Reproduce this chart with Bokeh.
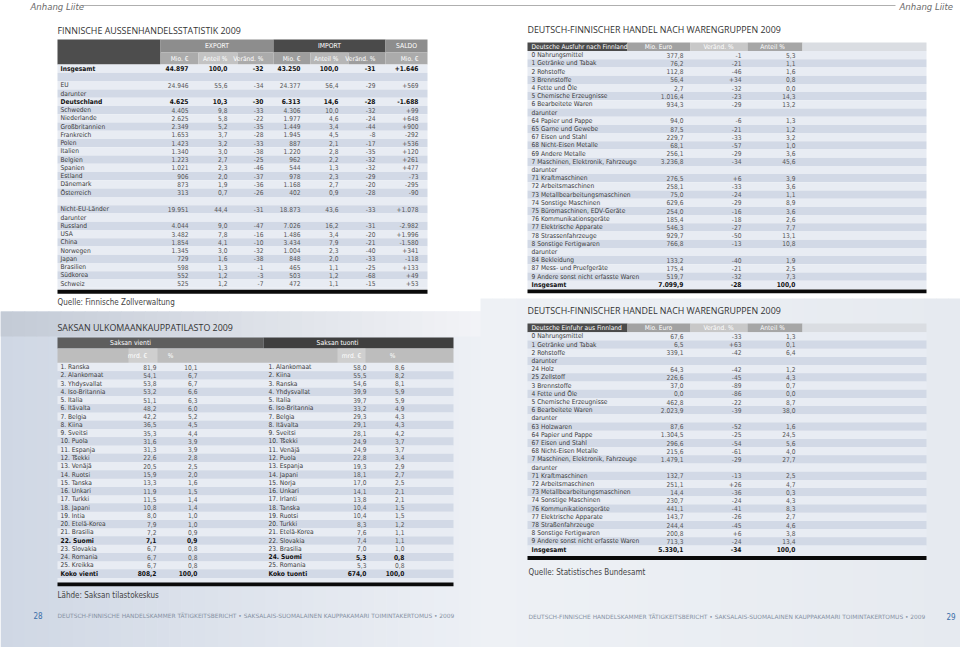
from bokeh.plotting import figure
from bokeh.models import ColumnDataSource, Range1d
from bokeh.core.properties import value
from bokeh.embed import file_html
from bokeh.resources import INLINE

# ------------------------------------------------------------------ DATA
fin_labels = ["Insgesamt", "", "EU", "darunter", "Deutschland", "Schweden", "Niederlande",
              "Großbritannien", "Frankreich", "Polen", "Italien", "Belgien", "Spanien", "Estland",
              "Dänemark", "Österreich", "", "Nicht-EU-Länder", "darunter", "Russland", "USA",
              "China", "Norwegen", "Japan", "Brasilien", "Südkorea", "Schweiz"]
fin_exp_mio = ["44.897", "", "24.946", "", "4.625", "4.405", "2.625", "2.349", "1.653", "1.423",
               "1.340", "1.223", "1.021", "906", "873", "313", "", "19.951", "", "4.044", "3.482",
               "1.854", "1.345", "729", "598", "552", "525"]
fin_exp_share = ["100,0", "", "55,6", "", "10,3", "9,8", "5,8", "5,2", "3,7", "3,2", "3,0", "2,7",
                 "2,3", "2,0", "1,9", "0,7", "", "44,4", "", "9,0", "7,8", "4,1", "3,0", "1,6",
                 "1,3", "1,2", "1,2"]
fin_exp_chg = ["-32", "", "-34", "", "-30", "-33", "-22", "-35", "-28", "-33", "-38", "-25", "-46",
               "-37", "-36", "-26", "", "-31", "", "-47", "-16", "-10", "-32", "-38", "-1", "-3", "-7"]
fin_imp_mio = ["43.250", "", "24.377", "", "6.313", "4.306", "1.977", "1.449", "1.945", "887",
               "1.220", "962", "544", "978", "1.168", "402", "", "18.873", "", "7.026", "1.486",
               "3.434", "1.004", "848", "465", "503", "472"]
fin_imp_share = ["100,0", "", "56,4", "", "14,6", "10,0", "4,6", "3,4", "4,5", "2,1", "2,8", "2,2",
                 "1,3", "2,3", "2,7", "0,9", "", "43,6", "", "16,2", "3,4", "7,9", "2,3", "2,0",
                 "1,1", "1,2", "1,1"]
fin_imp_chg = ["-31", "", "-29", "", "-28", "-32", "-24", "-44", "-8", "-17", "-35", "-32", "-32",
               "-29", "-20", "-28", "", "-33", "", "-31", "-20", "-21", "-40", "-33", "-25", "-68", "-15"]
fin_saldo = ["+1.646", "", "+569", "", "-1.688", "+99", "+648", "+900", "-292", "+536", "+120",
             "+261", "+477", "-73", "-295", "-90", "", "+1.078", "", "-2.982", "+1.996", "-1.580",
             "+341", "-118", "+133", "+49", "+53"]
fin_bold = ["Insgesamt", "Deutschland"]
fin_groups = ["EXPORT", "IMPORT", "SALDO"]
fin_sub = ["Mio. €", "Anteil %", "Veränd. %", "Mio. €", "Anteil %", "Veränd. %", "Mio. €"]

vienti_labels = ["1. Ranska", "2. Alankomaat", "3. Yhdysvallat", "4. Iso-Britannia", "5. Italia",
                 "6. Itävalta", "7. Belgia", "8. Kiina", "9. Sveitsi", "10. Puola", "11. Espanja",
                 "12. Tšekki", "13. Venäjä", "14. Ruotsi", "15. Tanska", "16. Unkari", "17. Turkki",
                 "18. Japani", "19. Intia", "20. Etelä-Korea", "21. Brasilia", "22. Suomi",
                 "23. Slovakia", "24. Romania", "25. Kreikka", "Koko vienti"]
vienti_mrd = ["81,9", "54,1", "53,8", "53,2", "51,1", "48,2", "42,2", "36,5", "35,3", "31,6", "31,3",
              "22,6", "20,5", "15,9", "13,3", "11,9", "11,5", "10,8", "8,0", "7,9", "7,2", "7,1",
              "6,7", "6,7", "6,7", "808,2"]
vienti_pct = ["10,1", "6,7", "6,7", "6,6", "6,3", "6,0", "5,2", "4,5", "4,4", "3,9", "3,9", "2,8",
              "2,5", "2,0", "1,6", "1,5", "1,4", "1,4", "1,0", "1,0", "0,9", "0,9", "0,8", "0,8",
              "0,8", "100,0"]
tuonti_labels = ["1. Alankomaat", "2. Kiina", "3. Ranska", "4. Yhdysvallat", "5. Italia",
                 "6. Iso-Britannia", "7. Belgia", "8. Itävalta", "9. Sveitsi", "10. Tšekki",
                 "11. Venäjä", "12. Puola", "13. Espanja", "14. Japani", "15. Norja", "16. Unkari",
                 "17. Irlanti", "18. Tanska", "19. Ruotsi", "20. Turkki", "21. Etelä-Korea",
                 "22. Slovakia", "23. Brasilia", "24. Suomi", "25. Romania", "Koko tuonti"]
tuonti_mrd = ["58,0", "55,5", "54,6", "39,9", "39,7", "33,2", "29,3", "29,1", "28,1", "24,9", "24,9",
              "22,8", "19,3", "18,1", "17,0", "14,1", "13,8", "10,4", "10,4", "8,3", "7,6", "7,4",
              "7,0", "5,3", "5,3", "674,0"]
tuonti_pct = ["8,6", "8,2", "8,1", "5,9", "5,9", "4,9", "4,3", "4,3", "4,2", "3,7", "3,7", "3,4",
              "2,9", "2,7", "2,5", "2,1", "2,1", "1,5", "1,5", "1,2", "1,1", "1,1", "1,0", "0,8",
              "0,8", "100,0"]
saksan_bold = ["22. Suomi", "24. Suomi", "Koko vienti", "Koko tuonti"]

aus_labels = ["0 Nahrungsmittel", "1 Getränke und Tabak", "2 Rohstoffe", "3 Brennstoffe",
              "4 Fette und Öle", "5 Chemische Erzeugnisse", "6 Bearbeitete Waren", "darunter",
              "64 Papier und Pappe", "65 Garne und Gewebe", "67 Eisen und Stahl",
              "68 Nicht-Eisen Metalle", "69 Andere Metalle", "7 Maschinen, Elektronik, Fahrzeuge",
              "darunter", "71 Kraftmaschinen", "72 Arbeitsmaschinen", "73 Metallbearbeitungsmaschinen",
              "74 Sonstige Maschinen", "75 Büromaschinen, EDV-Geräte", "76 Kommunikationsgeräte",
              "77 Elektrische Apparate", "78 Strassenfahrzeuge", "8 Sonstige Fertigwaren", "darunter",
              "84 Bekleidung", "87 Mess- und Pruefgeräte", "9 Andere sonst nicht erfasste Waren",
              "Insgesamt"]
aus_mio = ["377,8", "76,2", "112,8", "56,4", "2,7", "1.016,4", "934,3", "", "94,0", "87,5", "229,7",
           "68,1", "256,1", "3.236,8", "", "276,5", "258,1", "75,0", "629,6", "254,0", "185,4",
           "546,3", "929,7", "766,8", "", "133,2", "175,4", "519,7", "7.099,9"]
aus_chg = ["-1", "-21", "-46", "+34", "-32", "-23", "-29", "", "-6", "-21", "-33", "-57", "-29",
           "-34", "", "+6", "-33", "-24", "-29", "-16", "-18", "-27", "-50", "-13", "", "-40", "-21",
           "-32", "-28"]
aus_share = ["5,3", "1,1", "1,6", "0,8", "0,0", "14,3", "13,2", "", "1,3", "1,2", "3,2", "1,0", "3,6",
             "45,6", "", "3,9", "3,6", "1,1", "8,9", "3,6", "2,6", "7,7", "13,1", "10,8", "", "1,9",
             "2,5", "7,3", "100,0"]

ein_labels = ["0 Nahrungsmittel", "1 Getränke und Tabak", "2 Rohstoffe", "darunter", "24 Holz",
              "25 Zellstoff", "3 Brennstoffe", "4 Fette und Öle", "5 Chemische Erzeugnisse",
              "6 Bearbeitete Waren", "darunter", "63 Holzwaren", "64 Papier und Pappe",
              "67 Eisen und Stahl", "68 Nicht-Eisen Metalle", "7 Maschinen, Elektronik, Fahrzeuge",
              "darunter", "71 Kraftmaschinen", "72 Arbeitsmaschinen", "73 Metallbearbeitungsmaschinen",
              "74 Sonstige Maschinen", "76 Kommunikationsgeräte", "77 Elektrische Apparate",
              "78 Straßenfahrzeuge", "8 Sonstige Fertigwaren", "9 Andere sonst nicht erfasste Waren",
              "Insgesamt"]
ein_mio = ["67,6", "6,5", "339,1", "", "64,3", "226,6", "37,0", "0,0", "462,8", "2.023,9", "",
           "87,6", "1.304,5", "296,6", "215,6", "1.479,1", "", "132,7", "251,1", "14,4", "230,7",
           "441,1", "143,7", "244,4", "200,8", "713,3", "5.330,1"]
ein_chg = ["-33", "+63", "-42", "", "-42", "-45", "-89", "-86", "-22", "-39", "", "-52", "-25", "-54",
           "-61", "-29", "", "-13", "+26", "-36", "-24", "-41", "-26", "-45", "+6", "-24", "-34"]
ein_share = ["1,3", "0,1", "6,4", "", "1,2", "4,3", "0,7", "0,0", "8,7", "38,0", "", "1,6", "24,5",
             "5,6", "4,0", "27,7", "", "2,5", "4,7", "0,3", "4,3", "8,3", "2,7", "4,6", "3,8", "13,4",
             "100,0"]
ware_header_aus = ["Deutsche Ausfuhr nach Finnland", "Mio. Euro", "Veränd. %", "Anteil %"]
ware_header_ein = ["Deutsche Einfuhr aus Finnland", "Mio. Euro", "Veränd. %", "Anteil %"]

footer_text = ("DEUTSCH-FINNISCHE HANDELSKAMMER TÄTIGKEITSBERICHT • "
               "SAKSALAIS-SUOMALAINEN KAUPPAKAMARI TOIMINTAKERTOMUS • 2009")

# ------------------------------------------------------------------ STYLE / LAYOUT
NARROW = "Liberation Sans Narrow, DejaVu Sans Condensed, Arial Narrow, sans-serif"
TITLEF = "Open Sans"
LIGHT = "#e8ecf3"
DARK = "#d2d9e6"
LBL = "#3a3a3a"
NUM = "#555555"
BOLD = "#111111"
FS = 6.6
TS = 8.9

W, H = 960, 647
p = figure(width=W, height=H, x_range=Range1d(0, W), y_range=Range1d(H, 0),
           output_backend="svg", toolbar_location=None, min_border=0,
           x_axis_type=None, y_axis_type=None)
p.grid.visible = False
p.outline_line_color = None
p.background_fill_color = "#ffffff"
p.border_fill_color = "#ffffff"

Q = {"l": [], "r": [], "t": [], "b": [], "c": []}
TX = {}


def R(l, r, t, b, c):
    Q["l"].append(l); Q["r"].append(r); Q["t"].append(t); Q["b"].append(b); Q["c"].append(c)


def T(x, y, s, size=FS, color=LBL, align="left", style="normal", font=NARROW):
    key = (size, color, align, style, font)
    d = TX.setdefault(key, {"x": [], "y": [], "t": []})
    d["x"].append(x); d["y"].append(y); d["t"].append(s)


def mix(c0, c1, t):
    a = [int(c0[i:i + 2], 16) for i in (1, 3, 5)]
    b = [int(c1[i:i + 2], 16) for i in (1, 3, 5)]
    return "#%02x%02x%02x" % tuple(round(a[k] + (b[k] - a[k]) * t) for k in range(3))


def gradient(l, r, t, b, c0, c1, n=40):
    for i in range(n):
        x0 = l + (r - l) * i / n
        x1 = l + (r - l) * (i + 1) / n
        R(x0, x1 + 0.6, t, b, mix(c0, c1, (i + 0.5) / n))


def rows(x0, x1, y0, rh, labels, cols, label_x, bold, bar_gap):
    n = len(labels)
    for i in range(n):
        yc = y0 + i * rh
        R(x0, x1, yc - rh / 2, yc + rh / 2, LIGHT if i % 2 == 0 else DARK)
    yb = y0 + (n - 1) * rh + rh / 2
    R(x0, x1, yb, yb + bar_gap, LIGHT)
    R(x0, x1, yb + bar_gap, yb + bar_gap + 3.8, "#0a0a0a")
    for i, lab in enumerate(labels):
        yc = y0 + i * rh
        b = lab in bold
        T(label_x, yc, lab, color=BOLD if b else LBL, style="bold" if b else "normal")
        for xr, vals in cols:
            T(xr, yc, vals[i], color=BOLD if b else NUM, align="right",
              style="bold" if b else "normal")


# ---- page backgrounds
gradient(0, 482, 311, 647, "#cfd7e4", "#edf0f5")
gradient(0, 482, 311, 336, "#c3cad6", "#f3f4f7")
gradient(480, 960, 298, 647, "#eef1f5", "#e6eaf0")

# ---- running header
p.segment(x0=[82], y0=[5], x1=[895], y1=[5], line_color="#9a9a9a", line_width=0.8)
T(30, 6, "Anhang Liite", size=9.5, color="#6a6a6a", style="italic")
T(899, 6, "Anhang Liite", size=9.5, color="#6a6a6a", style="italic")

# ---- Finnische Aussenhandelsstatistik
T(57, 30, "FINNISCHE AUSSENHANDELSSTATISTIK 2009", size=TS, color="#333333", font=TITLEF)
fx0, fx1 = 57, 427
edges = [160, 198, 237, 273, 310, 348, 385, 427]
rights = [188, 227, 263, 300, 338, 375, 418]
R(fx0, edges[0], 39, 64.1, "#4d4d4d")
grp_cols = ["#8d8d8d", "#4a4a4a", "#8d8d8d"]
grp_span = [(0, 3), (3, 6), (6, 7)]
sub_cols = ["#ababab", "#c3c3c3", "#ababab", "#9e9e9e", "#b6b6b6", "#9e9e9e", "#ababab"]
for g, (a, b) in enumerate(grp_span):
    R(edges[a], edges[b], 39, 52, grp_cols[g])
    T((edges[a] + edges[b]) / 2, 45.5, fin_groups[g], size=6.8, color="#ffffff", align="center")
for k in range(7):
    R(edges[k], edges[k + 1], 52, 64.1, sub_cols[k])
    T(rights[k], 58.2, fin_sub[k], size=FS, color="#ffffff", align="right")
rows(fx0, fx1, 68.2, 8.27, fin_labels,
     [(rights[0], fin_exp_mio), (rights[1], fin_exp_share), (rights[2], fin_exp_chg),
      (rights[3], fin_imp_mio), (rights[4], fin_imp_share), (rights[5], fin_imp_chg),
      (rights[6], fin_saldo)], 60, fin_bold, 2.0)
T(57, 302, "Quelle: Finnische Zollverwaltung", size=8, color="#444444")

# ---- Saksan ulkomaankauppatilasto
T(57, 327, "SAKSAN ULKOMAANKAUPPATILASTO 2009", size=TS, color="#333333", font=TITLEF)
sx0, sx1, smid = 57, 453, 263
R(sx0, smid, 337, 348, "#5e5e5e")
R(smid, sx1, 337, 348, "#3f3f3f")
R(sx0, sx1, 348, 362.4, "#bdbdbd")
R(128, 157, 348, 362.4, "#cfcfcf")
R(337, 365, 348, 362.4, "#cfcfcf")
T(130, 342.5, "Saksan vienti", size=6.8, color="#ffffff", align="center")
T(337, 342.5, "Saksan tuonti", size=6.8, color="#ffffff", align="center")
T(137, 355, "mrd. €", size=FS, color="#ffffff", align="center")
T(170, 355, "%", size=FS, color="#ffffff", align="center")
T(351, 355, "mrd. €", size=FS, color="#ffffff", align="center")
T(392, 355, "%", size=FS, color="#ffffff", align="center")
rows(sx0, sx1, 366.5, 8.27, vienti_labels, [(156, vienti_mrd), (197, vienti_pct)], 60,
     saksan_bold, 4.6)
for i, lab in enumerate(tuonti_labels):
    yc = 366.5 + i * 8.27
    b = lab in saksan_bold
    T(268, yc, lab, color=BOLD if b else LBL, style="bold" if b else "normal")
    T(366, yc, tuonti_mrd[i], color=BOLD if b else NUM, align="right", style="bold" if b else "normal")
    T(404, yc, tuonti_pct[i], color=BOLD if b else NUM, align="right", style="bold" if b else "normal")
T(57, 595, "Lähde: Saksan tilastokeskus", size=8, color="#444444")


# ---- Warengruppen tables
def ware(ytitle, yh0, yh1, y0, header, labels, mio, chg, share, gap):
    T(527, ytitle, "DEUTSCH-FINNISCHER HANDEL NACH WARENGRUPPEN 2009", size=TS,
      color="#333333", font=TITLEF)
    wx0, wx1 = 527, 926
    hx = [527, 627, 690, 747, 802, 926]
    hc = ["#4b4b4b", "#a2a2a2", "#c8c8c8", "#a6a6a6", "#dadde2"]
    for k in range(5):
        R(hx[k], hx[k + 1], yh0, yh1, hc[k])
    ym = (yh0 + yh1) / 2
    T(531, ym, header[0], color="#ffffff")
    T(658, ym, header[1], color="#ffffff", align="center")
    T(718, ym, header[2], color="#ffffff", align="center")
    T(772, ym, header[3], color="#ffffff", align="center")
    rows(wx0, wx1, y0, 8.2, labels, [(683, mio), (741, chg), (795, share)], 531,
         ["Insgesamt"], gap)


ware(29, 42, 50.6, 54.7, ware_header_aus, aus_labels, aus_mio, aus_chg, aus_share, 0.6)
ware(310, 323, 331.8, 335.9, ware_header_ein, ein_labels, ein_mio, ein_chg, ein_share, 2.4)
T(528, 572, "Quelle: Statistisches Bundesamt", size=8, color="#444444")

# ---- footers
T(33, 615, "28", size=8, color="#3b6ea8")
T(946, 616, "29", size=8, color="#3b6ea8")
T(57, 615, footer_text, size=5.9, color="#8792a4", font="DejaVu Sans")
T(528, 616, footer_text, size=5.9, color="#8792a4", font="DejaVu Sans")

# ------------------------------------------------------------------ RENDER
p.quad(left="l", right="r", top="t", bottom="b", fill_color="c", line_color=None,
       source=ColumnDataSource(Q))
for (size, color, align, style, font), d in TX.items():
    p.text(x="x", y="y", text="t", source=ColumnDataSource(d), text_font_size=f"{size}px",
           text_color=color, text_align=align, text_baseline="middle",
           text_font_style=style, text_font=value(font))

open("out.html", "w").write(file_html(p, INLINE))
